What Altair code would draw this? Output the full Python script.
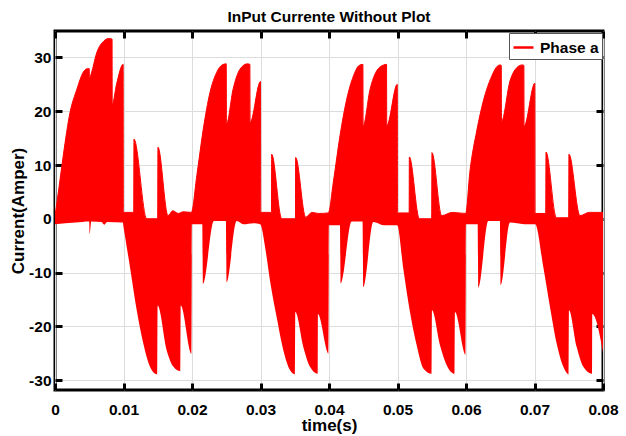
import altair as alt
import pandas as pd

# ---------------- data (envelopes of the dense switching waveform) ----------------
upper_t = [
    0.00000, 0.00060, 0.00120, 0.00220, 0.00320, 0.00410, 0.00470, 0.00500, 0.00503, 0.00530,
    0.00610, 0.00710, 0.00780, 0.00833, 0.00836, 0.00900, 0.00995, 0.00998, 0.01150, 0.01153,
    0.01340, 0.01500, 0.01503, 0.01650, 0.01720, 0.01800, 0.01870, 0.01990,
    0.02070, 0.02165, 0.02263, 0.02360, 0.02440, 0.02500, 0.02503, 0.02600, 0.02700, 0.02810,
    0.02845, 0.02848, 0.03000, 0.03003, 0.03160, 0.03163, 0.03310, 0.03510, 0.03513, 0.03660,
    0.03750, 0.03850, 0.03990,
    0.04063, 0.04160, 0.04258, 0.04355, 0.04440, 0.04495, 0.04498, 0.04600, 0.04696, 0.04800,
    0.04840, 0.04843, 0.04997, 0.05000, 0.05170, 0.05173, 0.05320, 0.05500, 0.05503, 0.05645,
    0.05800, 0.05995,
    0.06058, 0.06156, 0.06253, 0.06375, 0.06460, 0.06500, 0.06515, 0.06518, 0.06642, 0.06760,
    0.06820, 0.06845, 0.06848, 0.07005, 0.07008, 0.07165, 0.07168, 0.07320, 0.07500, 0.07503,
    0.07664, 0.07800, 0.08000,
]
upper_v = [
    0.5, 6.0, 11.7, 19.8, 24.1, 27.2, 27.9, 27.9, 26.1, 27.0,
    30.9, 33.0, 33.5, 33.4, 21.3, 25.1, 28.7, 1.2, 1.2, 14.8,
    0.0, 0.0, 13.3, 0.6, 1.5, 1.0, 1.3, 1.2,
    8.0, 16.7, 23.5, 27.2, 28.6, 28.8, 17.6, 24.1, 27.8, 28.8,
    28.7, 17.9, 25.5, 1.2, 1.2, 12.0, 0.0, 0.0, 11.4, 0.3,
    1.2, 1.0, 1.1,
    6.8, 15.4, 22.2, 26.5, 28.5, 28.7, 17.3, 24.1, 27.5, 28.6,
    28.7, 17.3, 25.0, 1.1, 1.1, 11.5, 0.0, 0.0, 12.3, 0.6,
    1.2, 1.0,
    8.9, 16.3, 21.9, 26.5, 28.4, 28.6, 28.5, 18.1, 25.6, 28.3,
    28.6, 28.5, 17.2, 25.2, 1.0, 1.0, 12.4, 0.2, 0.2, 12.0,
    0.6, 1.2, 1.2,
]
lower_t = [
    0.00000, 0.00300, 0.00500, 0.00505, 0.00530, 0.00680, 0.00720, 0.00760, 0.00990, 0.01000,
    0.01095, 0.01193, 0.01290, 0.01387, 0.01450, 0.01495, 0.01498, 0.01630, 0.01730, 0.01830,
    0.01835, 0.01995, 0.01998,
    0.02150, 0.02160, 0.02320, 0.02495, 0.02505, 0.02652, 0.02750, 0.02900, 0.02995, 0.03070,
    0.03139, 0.03236, 0.03333, 0.03430, 0.03505, 0.03508, 0.03625, 0.03723, 0.03835, 0.03838,
    0.03995, 0.03998,
    0.04160, 0.04170, 0.04331, 0.04490, 0.04500, 0.04647, 0.04800, 0.04995, 0.05085, 0.05182,
    0.05280, 0.05377, 0.05500, 0.05503, 0.05620, 0.05718, 0.05835, 0.05838, 0.05996, 0.05999,
    0.06170, 0.06180, 0.06326, 0.06495, 0.06505, 0.06642, 0.06850, 0.07010, 0.07129, 0.07226,
    0.07324, 0.07421, 0.07500, 0.07503, 0.07616, 0.07713, 0.07840, 0.07843, 0.08000,
]
lower_v = [
    -1.0, -0.7, -0.5, -2.8, -0.5, -0.6, -1.1, -0.6, -0.7, -1.5,
    -9.0, -17.0, -23.2, -27.5, -28.7, -28.9, -16.1, -24.4, -27.5, -28.3,
    -16.1, -25.1, -1.0,
    -1.0, -12.1, -0.4, -0.4, -11.8, -0.4, -1.0, -0.8, -1.0, -5.5,
    -11.5, -18.3, -24.4, -28.1, -28.9, -17.3, -23.8, -27.5, -28.8, -17.7,
    -25.1, -1.2,
    -1.2, -12.0, -0.5, -0.5, -12.7, -0.6, -1.2, -1.2, -9.3, -17.3,
    -23.5, -27.8, -28.8, -17.0, -23.5, -27.2, -28.8, -17.3, -25.3, -1.0,
    -1.0, -12.8, -0.4, -0.4, -12.3, -0.7, -1.0, -1.0, -9.0, -16.4,
    -23.2, -27.5, -28.9, -17.0, -23.8, -27.5, -28.8, -17.7, -24.8,
]
x_ticks = [0, 0.01, 0.02, 0.03, 0.04, 0.05, 0.06, 0.07, 0.08]
y_ticks = [-30, -20, -10, 0, 10, 20, 30]
series_name = "Phase a"
title_text = "InPut Currente Without Plot"
x_title = "time(s)"
y_title = "Current(Amper)"

upper_df = pd.DataFrame({"t": upper_t, "v": upper_v, "s": series_name})
lower_df = pd.DataFrame({"t": lower_t, "v": lower_v, "s": series_name})

RED = "#ff0000"
SANS = "Liberation Sans, Arial, Helvetica, sans-serif"

xscale = alt.Scale(domain=[0, 0.08], nice=False, zero=False)
yscale = alt.Scale(domain=[-31.8, 34.9], nice=False, zero=False)

common_tick = dict(tickSize=7, tickWidth=3, tickColor="black", offset=-7, domain=False)

x_main_axis = alt.Axis(
    values=x_ticks, format=".2~f", orient="bottom", grid=True, gridColor="#dcdcdc", gridWidth=1,
    labelPadding=12, labelFlush=False, labelOverlap=False,
    labelFont=SANS, labelFontSize=15.5, labelFontWeight="bold", labelColor="black",
    title=x_title, titleFont=SANS, titleFontSize=17, titleFontWeight="bold", titleColor="black",
    titlePadding=0, **common_tick,
)
y_main_axis = alt.Axis(
    values=y_ticks, orient="left", grid=True, gridColor="#dcdcdc", gridWidth=1,
    labelPadding=4, labelOverlap=False, labelExpr="'' + datum.value",
    labelFont=SANS, labelFontSize=15.5, labelFontWeight="bold", labelColor="black",
    title=y_title, titleFont=SANS, titleFontSize=17, titleFontWeight="bold", titleColor="black",
    titlePadding=1, **common_tick,
)
x_top_axis = alt.Axis(values=x_ticks, orient="top", labels=False, grid=False, title=None, **common_tick)
y_right_axis = alt.Axis(values=y_ticks, orient="right", labels=False, grid=False, title=None, **common_tick)

upper_area = alt.Chart(upper_df).mark_area(
    color=RED, strokeWidth=0, clip=True, interpolate="monotone"
).encode(
    x=alt.X("t:Q", scale=xscale, axis=x_main_axis),
    y=alt.Y("v:Q", scale=yscale, axis=y_main_axis),
    y2=alt.datum(-0.3),
)
lower_area = alt.Chart(lower_df).mark_area(
    color=RED, strokeWidth=0, clip=True, interpolate="monotone"
).encode(
    x=alt.X("t:Q", scale=xscale, axis=None),
    y=alt.Y("v:Q", scale=yscale, axis=None),
    y2=alt.datum(0),
)
edge_line = alt.Chart(upper_df).mark_line(
    strokeWidth=1, clip=True, interpolate="monotone"
).encode(
    x=alt.X("t:Q", scale=xscale, axis=x_top_axis),
    y=alt.Y("v:Q", scale=yscale, axis=y_right_axis),
    color=alt.Color(
        "s:N",
        scale=alt.Scale(domain=[series_name], range=[RED]),
        legend=alt.Legend(
            title=None, orient="none", legendX=454, legendY=2,
            symbolType="stroke", symbolSize=400, symbolStrokeWidth=2.5, symbolStrokeColor=RED,
            labelFont=SANS, labelFontSize=15.5, labelFontWeight="bold", labelColor="black",
            labelOffset=5, fillColor="white", strokeColor="#555555", padding=3,
        ),
    ),
)

chart = (
    alt.layer(upper_area, lower_area, edge_line)
    .resolve_axis(x="independent", y="independent")
    .properties(
        width=548,
        height=359,
        autosize=alt.AutoSizeParams(type="none"),
        padding={"left": 55, "top": 31, "right": 23, "bottom": 46},
        background="white",
        title=alt.TitleParams(
            text=title_text, font=SANS, fontSize=15.5, fontWeight="bold", color="black",
            anchor="middle", offset=4,
        ),
    )
    .configure_view(stroke="black", strokeWidth=3)
)

chart.save("out.html", embed_options={"renderer": "svg", "actions": False})
